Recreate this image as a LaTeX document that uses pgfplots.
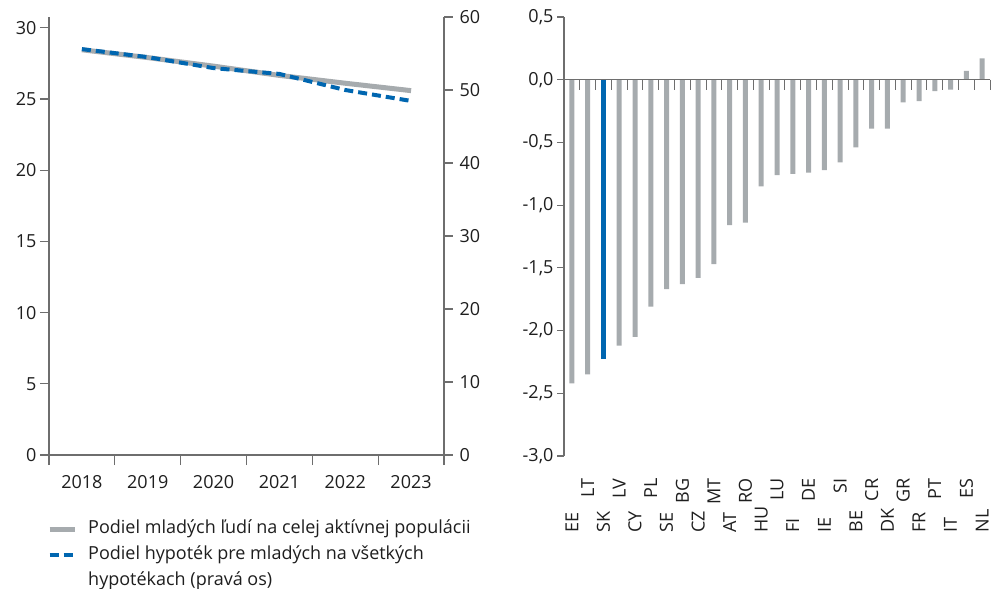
\documentclass[border=0pt]{standalone}
\usepackage{fontspec}
\setmainfont{Open Sans}
\usepackage{pgfplots}
\pgfplotsset{compat=1.18}
\definecolor{nbsgray}{RGB}{166,171,174}
\definecolor{nbsblue}{RGB}{0,102,176}
\definecolor{axisgray}{RGB}{110,110,110}
\definecolor{txt}{RGB}{30,30,30}

\begin{document}
\begin{tikzpicture}
\useasboundingbox (0pt,0pt) rectangle (991pt,-589pt);
\pgfplotsset{
  base/.style={
    scale only axis,
    font=\fontsize{18}{21.6}\selectfont,
    /pgf/number format/assume math mode=true,
    tick align=outside,
    axis line style={axisgray, line width=1.2pt},
    every tick/.style={axisgray, line width=1.2pt},
    major tick length=9pt,
    tick label style={txt},
    clip=false,
  }
}
% left chart, left axis
\begin{axis}[base, at={(49pt,-17pt)}, anchor=north west, width=395pt, height=438pt,
  xmin=0, xmax=6, ymin=0, ymax=30.75,
  axis y line*=left, axis x line*=bottom,
  ytick={0,5,...,30},
  xtick={0.5,1.5,...,5.5}, xticklabels={2018,2019,2020,2021,2022,2023},
  xticklabel style={yshift=-8pt},
  major x tick style={draw=none},
  minor xtick={0,1,...,6}, minor tick length=10pt,
]
\addplot[nbsgray, line width=5pt] coordinates {(0.5,28.45) (1.5,27.9) (2.5,27.3) (3.5,26.65) (4.5,26.1) (5.5,25.58)};
\end{axis}
% left chart, right axis
\begin{axis}[base, at={(49pt,-17pt)}, anchor=north west, width=395pt, height=438pt,
  xmin=0, xmax=6, ymin=0, ymax=60,
  axis y line*=right, axis x line=none,
  ytick={0,10,...,60},
  yticklabel style={xshift=3pt},
  legend image code/.code={\draw[#1] (0pt,0pt) -- (25pt,0pt);},
  legend cell align=left,
  legend style={at={(axis description cs:0,0)}, anchor=north west, yshift=-64pt, xshift=-2pt,
    draw=none, fill=none, inner sep=0pt, row sep=6pt, text=txt,
    font=\fontsize{18}{21.6}\selectfont,
    nodes={inner sep=2pt, text height=12pt, text depth=4pt},
    /tikz/every odd column/.append style={column sep=9pt}},
]
\addlegendimage{nbsgray, line width=5pt}
\addlegendentry{Podiel mladých ľudí na celej aktívnej populácii}
\addplot[nbsblue, line width=4pt, dash pattern=on 9pt off 5pt] coordinates {(0.5,55.6) (1.5,54.5) (2.5,53.0) (3.5,52.2) (4.5,50.0) (5.5,48.5)};
\addlegendentry{Podiel hypoték pre mladých na všetkých}
\addlegendimage{white, opacity=0}
\addlegendentry{hypotékach (pravá os)}
\end{axis}
% right chart
\begin{axis}[base, at={(564pt,-17pt)}, anchor=north west, width=426pt, height=439pt,
  xmin=-0.5, xmax=26.5, ymin=-3, ymax=0.5,
  axis y line*=left, axis x line*=bottom, x axis line style={draw=none},
  major tick length=7pt,
  ytick={-3,-2.5,-2,-1.5,-1,-0.5,0,0.5},
  yticklabels={{-3,0},{-2,5},{-2,0},{-1,5},{-1,0},{-0,5},{0,0},{0,5}},
  xtick={1,3,...,25}, xticklabels={LT,LV,PL,BG,MT,RO,LU,DE,SI,CR,GR,PT,ES},
  major x tick style={draw=none},
  xticklabel style={rotate=90, anchor=east, xshift=-12pt},
  extra x ticks={0,2,...,26}, extra x tick labels={EE,SK,CY,SE,CZ,AT,HU,FI,IE,BE,DK,FR,IT,NL},
  extra x tick style={major x tick style={draw=none}, xticklabel style={anchor=west, xshift=-61pt}},
]
\addplot[ybar, bar width=5pt, bar shift=0pt, fill=nbsgray, draw=none] coordinates {
(0,-2.42) (1,-2.35) (3,-2.12) (4,-2.05) (5,-1.81) (6,-1.67) (7,-1.63) (8,-1.58) (9,-1.47)
(10,-1.16) (11,-1.14) (12,-0.85) (13,-0.76) (14,-0.75) (15,-0.74) (16,-0.72) (17,-0.66)
(18,-0.54) (19,-0.39) (20,-0.39) (21,-0.18) (22,-0.17) (23,-0.09) (24,-0.08) (25,0.07) (26,0.17)};
\addplot[ybar, bar width=5pt, bar shift=0pt, fill=nbsblue, draw=none] coordinates {(2,-2.23)};
\draw[axisgray, line width=1.2pt] (axis cs:-0.5,0) -- (axis cs:26.5,0);
\pgfplotsinvokeforeach{0,...,27}{\draw[axisgray, line width=1pt] (axis cs:#1-0.5,0) -- ++(0pt,-10pt);}
\end{axis}
\end{tikzpicture}
\end{document}
